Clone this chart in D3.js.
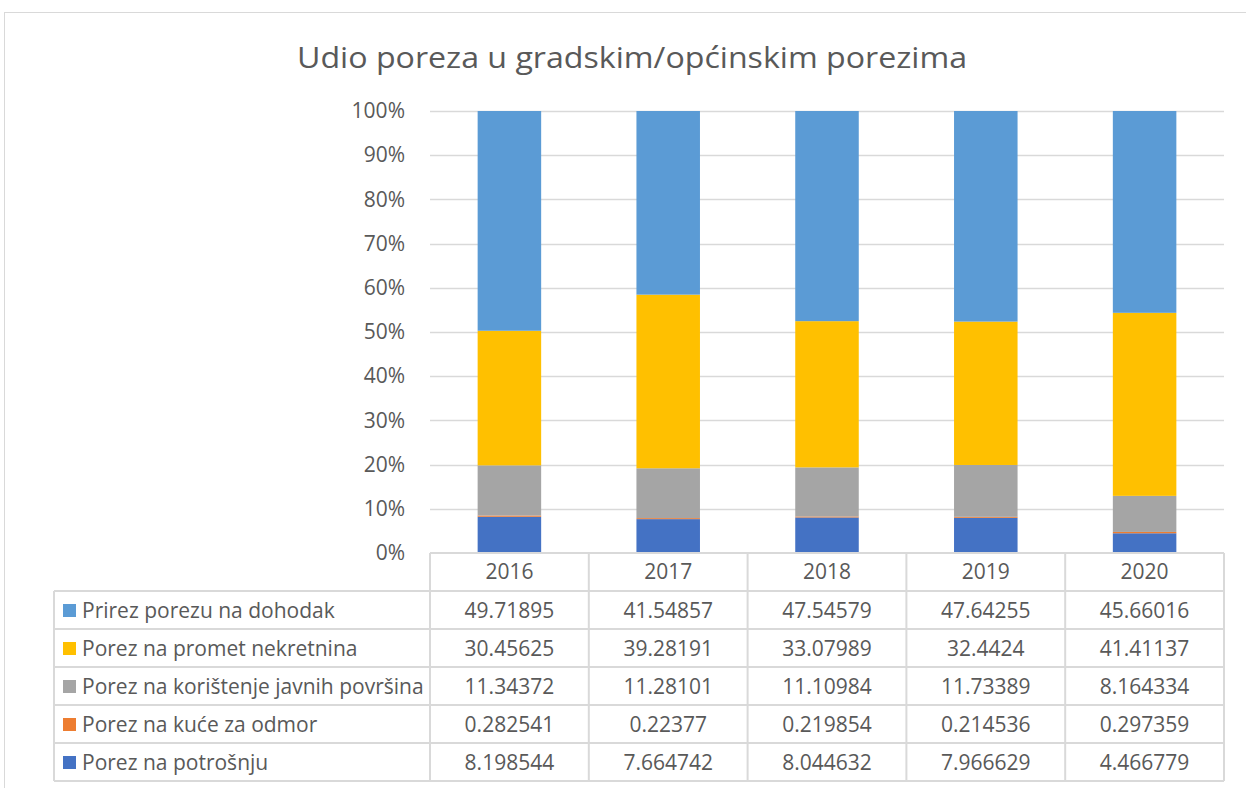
<!DOCTYPE html>
<html><head><meta charset="utf-8">
<script src="https://cdn.jsdelivr.net/npm/d3@7"></script>
<style>body{margin:0;background:#fff;} svg{display:block;}</style>
</head><body><svg id="c" width="1246" height="788"></svg>
<script>
const years = ["2016","2017","2018","2019","2020"];
const seriesNames = ["Prirez porezu na dohodak","Porez na promet nekretnina","Porez na korištenje javnih površina","Porez na kuće za odmor","Porez na potrošnju"];
const seriesLabels = [
  ["49.71895","41.54857","47.54579","47.64255","45.66016"],
  ["30.45625","39.28191","33.07989","32.4424","41.41137"],
  ["11.34372","11.28101","11.10984","11.73389","8.164334"],
  ["0.282541","0.22377","0.219854","0.214536","0.297359"],
  ["8.198544","7.664742","8.044632","7.966629","4.466779"]
];
const seriesColors = ["#5B9BD5","#FFC000","#A5A5A5","#ED7D31","#4472C4"];
const yTicks = [0,0.1,0.2,0.3,0.4,0.5,0.6,0.7,0.8,0.9,1.0];
const title = "Udio poreza u gradskim/općinskim porezima";

const svg = d3.select("#c");
const font = "'Open Sans', sans-serif";
const txt = "#595959", grid = "#D9D9D9";
const fs = 21;

svg.append("rect").attr("x",4.5).attr("y",12.5).attr("width",1250).attr("height",800)
  .attr("fill","none").attr("stroke",grid);

svg.append("text").attr("x",632).attr("y",68).attr("text-anchor","middle")
  .attr("font-family",font).attr("font-size",29).attr("fill",txt)
  .attr("textLength",670).attr("lengthAdjust","spacingAndGlyphs").text(title);

const x = d3.scaleBand().domain(years).range([430,1224]).paddingInner(0.6).paddingOuter(0.3);
const xc = d3.scaleBand().domain(years).range([430,1224]);
const y = d3.scaleLinear().domain([0,1]).range([553,111]);

svg.append("g").selectAll("line").data(yTicks.slice(1)).join("line")
  .attr("x1",430).attr("x2",1224).attr("y1",d=>Math.round(y(d))+0.5).attr("y2",d=>Math.round(y(d))+0.5)
  .attr("stroke",grid).attr("stroke-width",1.5);

const yAxis = svg.append("g").attr("transform","translate(430,0)")
  .call(d3.axisLeft(y).tickValues(yTicks).tickFormat(d3.format(".0%")).tickSize(0).tickPadding(25));
yAxis.select(".domain").remove();
yAxis.selectAll("text").attr("font-family",font).attr("font-size",fs).attr("fill",txt);

const rows = years.map((yr,i)=>{const o={year:yr}; seriesNames.forEach((s,j)=>o[s]=+seriesLabels[j][i]); return o;});
const stackOrder = seriesNames.slice().reverse();
const stack = d3.stack().keys(stackOrder).offset(d3.stackOffsetExpand)(rows);
svg.append("g").selectAll("g").data(stack).join("g")
  .attr("fill",d=>seriesColors[seriesNames.indexOf(d.key)])
  .selectAll("rect").data(d=>d).join("rect")
  .attr("x",d=>x(d.data.year)).attr("width",x.bandwidth())
  .attr("y",d=>y(d[1])).attr("height",d=>y(d[0])-y(d[1]));

const rowY = d3.scaleBand().domain(d3.range(6)).range([553,781]);
const tg = svg.append("g");
const lineAttrs = s=>s.attr("stroke",grid).attr("stroke-width",2);
[1,2,3,4,5,6].forEach(i=>{
  const yy = 553 + i*rowY.bandwidth();
  tg.append("line").attr("x1", 54).attr("x2",1224).attr("y1",yy).attr("y2",yy).call(lineAttrs);
});
xc.domain().forEach(d=>{
  tg.append("line").attr("x1",xc(d)).attr("x2",xc(d)).attr("y1",553).attr("y2",781).call(lineAttrs);
});
tg.append("line").attr("x1",1224).attr("x2",1224).attr("y1",553).attr("y2",781).call(lineAttrs);
tg.append("line").attr("x1",54).attr("x2",54).attr("y1",rowY(1)).attr("y2",781).call(lineAttrs);
tg.append("line").attr("x1",430).attr("x2",1224).attr("y1",553).attr("y2",553).call(lineAttrs);

tg.selectAll("text.h").data(years).join("text").attr("class","h")
  .attr("x",d=>xc(d)+xc.bandwidth()/2).attr("y",rowY(0)+rowY.bandwidth()/2+7)
  .attr("text-anchor","middle").attr("font-family",font).attr("font-size",fs).attr("fill",txt).text(d=>d);

seriesNames.forEach((s,j)=>{
  const ry = rowY(j+1), cy = ry+rowY.bandwidth()/2;
  tg.append("rect").attr("x",63).attr("y",cy-6).attr("width",13).attr("height",13).attr("fill",seriesColors[j]);
  tg.append("text").attr("x",82).attr("y",cy+7.5).attr("font-family",font).attr("font-size",fs).attr("fill",txt).text(s);
  years.forEach((yr,i)=>{
    tg.append("text").attr("x",xc(yr)+xc.bandwidth()/2).attr("y",cy+7.5).attr("text-anchor","middle")
      .attr("font-family",font).attr("font-size",fs).attr("fill",txt).text(seriesLabels[j][i]);
  });
});
</script></body></html>
